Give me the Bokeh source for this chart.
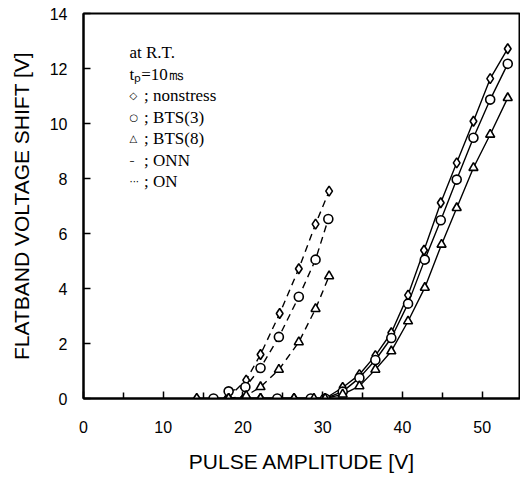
from bokeh.plotting import figure
from bokeh.models import FixedTicker, Label
from bokeh.embed import file_html
from bokeh.resources import INLINE

# ---- data ----
# ON (dashed) series
on_dia_x = [18.0, 20.4, 22.2, 24.6, 27.0, 29.1, 30.8]
on_dia_y = [0.0, 0.67, 1.6, 3.09, 4.72, 6.34, 7.54]
on_cir_x = [18.2, 20.3, 22.2, 24.5, 27.0, 29.1, 30.7]
on_cir_y = [0.26, 0.42, 1.11, 2.24, 3.70, 5.05, 6.53]
on_tri_x = [18.2, 20.4, 22.2, 24.5, 27.0, 29.1, 30.8]
on_tri_y = [0.0, 0.1, 0.42, 1.05, 2.05, 3.26, 4.45]

# ONN (solid) series
onn_dia_x = [14.2, 18.2, 22.2, 26.4, 30.3, 32.5, 34.6, 36.6, 38.6, 40.7, 42.7, 44.8, 46.8, 48.9, 51.0, 53.2]
onn_dia_y = [0.0, 0.0, 0.0, 0.0, 0.0, 0.4, 0.87, 1.56, 2.39, 3.76, 5.39, 7.12, 8.57, 10.08, 11.63, 12.72]
onn_cir_x = [16.3, 20.3, 24.3, 28.5, 30.3, 32.5, 34.6, 36.6, 38.6, 40.7, 42.8, 44.8, 46.8, 48.9, 51.0, 53.2]
onn_cir_y = [0.0, 0.0, 0.0, 0.0, 0.0, 0.25, 0.75, 1.4, 2.2, 3.45, 5.05, 6.48, 7.96, 9.48, 10.87, 12.17]
onn_tri_x = [18.2, 22.2, 26.4, 28.9, 30.3, 32.5, 34.6, 36.6, 38.6, 40.7, 42.8, 44.9, 46.8, 48.9, 51.0, 53.2]
onn_tri_y = [0.0, 0.0, 0.0, 0.0, 0.0, 0.15, 0.45, 1.05, 1.72, 2.81, 4.03, 5.6, 6.93, 8.39, 9.6, 10.93]

x_ticks = [0, 10, 20, 30, 40, 50]
x_minor = [5, 15, 25, 35, 45]
y_ticks = [0, 2, 4, 6, 8, 10, 12, 14]

header_lines = ["at R.T.", "t\u209a=10\u33b3"]
key_symbols = ["\u25c7", "\u25cb", "\u25b3", "\u2013", "\u00b7\u00b7\u00b7"]
key_texts = ["; nonstress", "; BTS(3)", "; BTS(8)", "; ONN", "; ON"]

p = figure(width=520, height=475, x_range=(0, 54.8), y_range=(0, 14),
           output_backend="svg", toolbar_location=None,
           min_border_left=83, min_border_right=0, min_border_top=13, min_border_bottom=76)
p.grid.visible = False
p.outline_line_color = "black"
p.outline_line_width = 2
p.background_fill_color = "white"
p.border_fill_color = "white"

p.xaxis.ticker = FixedTicker(ticks=x_ticks, minor_ticks=x_minor)
p.yaxis.ticker = FixedTicker(ticks=y_ticks, minor_ticks=[])
for ax in (p.xaxis, p.yaxis):
    ax.axis_line_width = 2
    ax.axis_line_color = "black"
    ax.major_tick_in = 7
    ax.major_tick_out = 0
    ax.minor_tick_in = 6
    ax.minor_tick_out = 0
    ax.major_tick_line_width = 1.5
    ax.minor_tick_line_width = 1.5
    ax.major_label_text_font = "Liberation Sans"
    ax.major_label_text_font_size = "16px"
    ax.major_label_text_color = "black"
    ax.axis_label_text_font = "Liberation Sans"
    ax.axis_label_text_font_size = "21px"
    ax.axis_label_text_font_style = "normal"
    ax.axis_label_text_color = "black"

p.xaxis.axis_label = "PULSE AMPLITUDE [V]"
p.yaxis.axis_label = "FLATBAND VOLTAGE SHIFT [V]"
p.xaxis.major_label_standoff = 22
p.xaxis.axis_label_standoff = 14
p.yaxis.major_label_standoff = 16
p.yaxis.axis_label_standoff = 14

lw = 1.4
# dashed ON curves
for xs, ys in ((on_dia_x, on_dia_y), (on_cir_x, on_cir_y), (on_tri_x, on_tri_y)):
    p.line(xs, ys, line_color="black", line_width=lw, line_dash="7 5")
# solid ONN curves
for xs, ys in ((onn_dia_x, onn_dia_y), (onn_cir_x, onn_cir_y), (onn_tri_x, onn_tri_y)):
    p.line(xs, ys, line_color="black", line_width=lw)

mk = dict(fill_color="white", line_color="black", line_width=1.6)
p.scatter(on_dia_x, on_dia_y, marker="diamond", size=10, **mk)
p.scatter(onn_dia_x, onn_dia_y, marker="diamond", size=10, **mk)
p.scatter(on_cir_x, on_cir_y, marker="circle", size=9, **mk)
p.scatter(onn_cir_x, onn_cir_y, marker="circle", size=9, **mk)
p.scatter(on_tri_x, on_tri_y, marker="triangle", size=9, **mk)
p.scatter(onn_tri_x, onn_tri_y, marker="triangle", size=9, **mk)

# legend text block (top-left)
x0 = 5.77
x_sym = 5.77
x_txt = 7.6
y0 = 12.57
step = 0.78
for i, t in enumerate(header_lines):
    p.add_layout(Label(x=x0, y=y0 - i * step, text=t, text_font="Liberation Serif",
                       text_font_size="17px", text_color="black", text_baseline="middle"))
for j, (s, t) in enumerate(zip(key_symbols, key_texts)):
    yy = y0 - (j + 2) * step
    p.add_layout(Label(x=x_sym, y=yy, text=s, text_font="DejaVu Sans",
                       text_font_size="10px", text_color="black", text_baseline="middle"))
    p.add_layout(Label(x=x_txt, y=yy, text=t, text_font="Liberation Serif",
                       text_font_size="17px", text_color="black", text_baseline="middle"))

open("out.html", "w").write(file_html(p, INLINE))
